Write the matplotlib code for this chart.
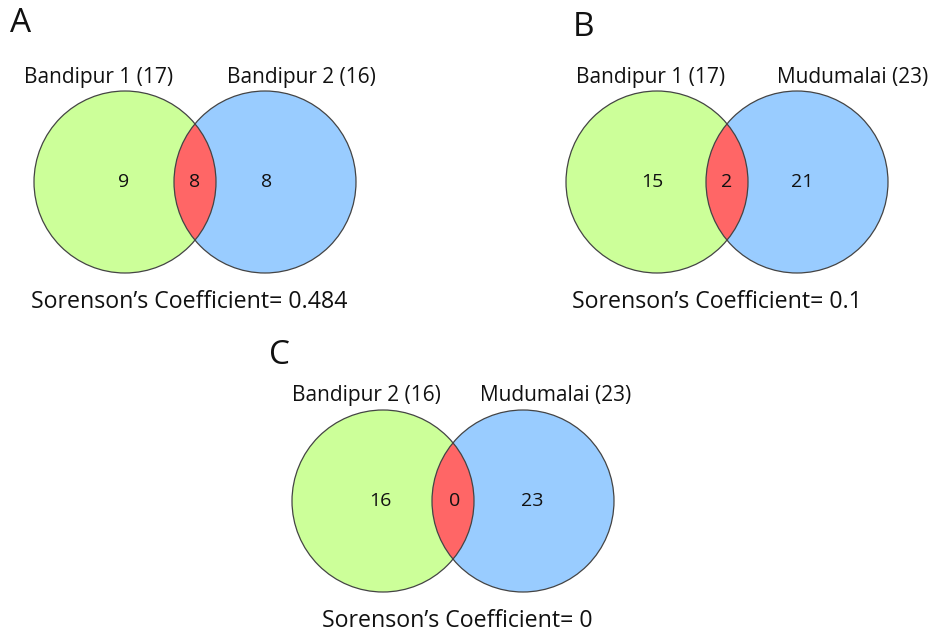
import matplotlib
matplotlib.use("Agg")
import matplotlib.pyplot as plt
from matplotlib.patches import Circle

plt.rcParams['font.family'] = ['Open Sans', 'DejaVu Sans']

# Data for each comparison panel
panel_letters = ["A", "B", "C"]
left_names = ["Bandipur 1", "Bandipur 1", "Bandipur 2"]
right_names = ["Bandipur 2", "Mudumalai", "Mudumalai"]
left_totals = [17, 17, 16]
right_totals = [16, 23, 23]
left_only = [9, 15, 16]
shared = [8, 2, 0]
right_only = [8, 21, 23]
coefficients = ["0.484", "0.1", "0"]

# Layout (pixel coordinates, y downward)
centers = [(125, 182), (657, 182), (383, 501)]   # left circle centres
sep = 140
radius = 91
letter_pos = [(21, 24), (584, 27), (280, 356)]
label_dy = -105
coef_dy = 120
coef_dx = [-6, -10, 4]
label_dx = [(-26, 36), (-6, 56), (-17, 33)]
num_dx = [(-1, 70, 142), (-5, 70, 145), (-3, 72, 149)]

green = "#CCFF99"
blue = "#99CCFF"
red = "#FF6666"
edge = "#444444"

W, H = 937, 634
fig = plt.figure(figsize=(W / 100, H / 100), dpi=100)
ax = fig.add_axes([0, 0, 1, 1])
ax.set_xlim(0, W)
ax.set_ylim(H, 0)
ax.set_aspect("equal")
ax.axis("off")

for i in range(3):
    cx, cy = centers[i]
    rx = cx + sep
    cl = Circle((cx, cy), radius, facecolor=green, edgecolor="none", zorder=1)
    cr = Circle((rx, cy), radius, facecolor=blue, edgecolor="none", zorder=1)
    ax.add_patch(cl)
    ax.add_patch(cr)
    # overlap region: left circle clipped by right circle
    lens = Circle((cx, cy), radius, facecolor=red, edgecolor="none", zorder=2)
    ax.add_patch(lens)
    clip = Circle((rx, cy), radius, transform=ax.transData)
    lens.set_clip_path(clip)
    for x in (cx, rx):
        ax.add_patch(Circle((x, cy), radius, facecolor="none",
                            edgecolor=edge, linewidth=0.9, zorder=3))

    dl, dm, dr = num_dx[i]
    for dx, val in zip((dl, dm, dr), (left_only[i], shared[i], right_only[i])):
        ax.text(cx + dx, cy, str(val), ha="center", va="center",
                fontsize=14, color="#111111", zorder=4)

    ldx, rdx = label_dx[i]
    ax.text(cx + ldx, cy + label_dy, f"{left_names[i]} ({left_totals[i]})",
            ha="center", va="center", fontsize=15, color="#111111")
    ax.text(rx + rdx, cy + label_dy, f"{right_names[i]} ({right_totals[i]})",
            ha="center", va="center", fontsize=15, color="#111111")

    ax.text((cx + rx) / 2 + coef_dx[i], cy + coef_dy,
            f"Sorenson\u2019s Coefficient= {coefficients[i]}",
            ha="center", va="center", fontsize=16.7, color="#111111")

    lx, ly = letter_pos[i]
    ax.text(lx, ly, panel_letters[i], ha="center", va="center",
            fontsize=24, color="#111111")

fig.savefig("out.png", dpi=100)
